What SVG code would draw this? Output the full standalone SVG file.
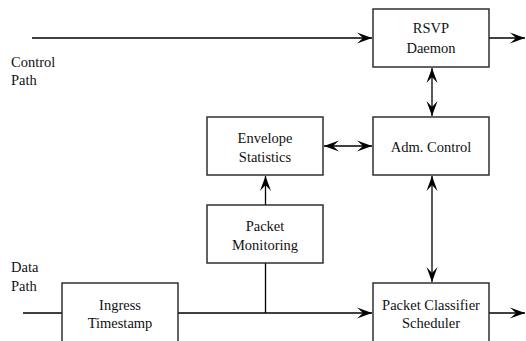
<svg xmlns="http://www.w3.org/2000/svg" width="526" height="341" viewBox="0 0 526 341">
<defs>
<style>
.box{fill:#fff;stroke:#222;stroke-width:1.4}
.ln{fill:none;stroke:#000;stroke-width:1.3}
text{font-family:"Liberation Serif","Times New Roman",serif;font-size:14.5px;fill:#111}
.c{text-anchor:middle}
</style>
<marker id="ah" markerUnits="userSpaceOnUse" viewBox="-16 -6 17 12" refX="0" refY="0" markerWidth="17" markerHeight="12" orient="auto-start-reverse">
<path d="M0,0 L-15,-5.5 L-9,0 L-15,5.5 Z" fill="#000"/>
</marker>
</defs>
<rect width="526" height="341" fill="#fff"/>
<g id="connectors">
<line class="ln" x1="32" y1="38" x2="372" y2="38" marker-end="url(#ah)"/>
<line class="ln" x1="489" y1="38" x2="525" y2="38" marker-end="url(#ah)"/>
<line class="ln" x1="432" y1="68" x2="432" y2="116" marker-start="url(#ah)" marker-end="url(#ah)"/>
<line class="ln" x1="324" y1="146" x2="372" y2="146" marker-start="url(#ah)" marker-end="url(#ah)"/>
<line class="ln" x1="265.5" y1="205" x2="265.5" y2="176" marker-end="url(#ah)"/>
<line class="ln" x1="432" y1="176" x2="432" y2="282" marker-start="url(#ah)" marker-end="url(#ah)"/>
<line class="ln" x1="265.5" y1="263" x2="265.5" y2="313"/>
<line class="ln" x1="23" y1="313" x2="62" y2="313"/>
<line class="ln" x1="178" y1="313" x2="372" y2="313" marker-end="url(#ah)"/>
<line class="ln" x1="489" y1="313" x2="525" y2="313" marker-end="url(#ah)"/>
</g>
<g id="rsvp">
<rect class="box" x="373" y="9" width="116" height="58"/>
<text class="c" x="431" y="33">RSVP</text>
<text class="c" x="431" y="53">Daemon</text>
</g>
<g id="control-path">
<text x="11" y="67">Control</text>
<text x="11" y="85">Path</text>
</g>
<g id="envelope">
<rect class="box" x="207" y="117" width="116" height="58"/>
<text class="c" x="265" y="143">Envelope</text>
<text class="c" x="265" y="162">Statistics</text>
</g>
<g id="adm">
<rect class="box" x="373" y="117" width="116" height="58"/>
<text class="c" x="431" y="152">Adm. Control</text>
</g>
<g id="monitoring">
<rect class="box" x="207" y="205" width="116" height="58"/>
<text class="c" x="265" y="231">Packet</text>
<text class="c" x="265" y="250">Monitoring</text>
</g>
<g id="data-path">
<text x="11" y="272">Data</text>
<text x="11" y="291">Path</text>
</g>
<g id="ingress">
<rect class="box" x="62" y="283" width="116" height="70"/>
<text class="c" x="120" y="310">Ingress</text>
<text class="c" x="120" y="328">Timestamp</text>
</g>
<g id="classifier">
<rect class="box" x="373" y="283" width="116" height="70"/>
<text class="c" x="431" y="310">Packet Classifier</text>
<text class="c" x="431" y="328">Scheduler</text>
</g>
</svg>
